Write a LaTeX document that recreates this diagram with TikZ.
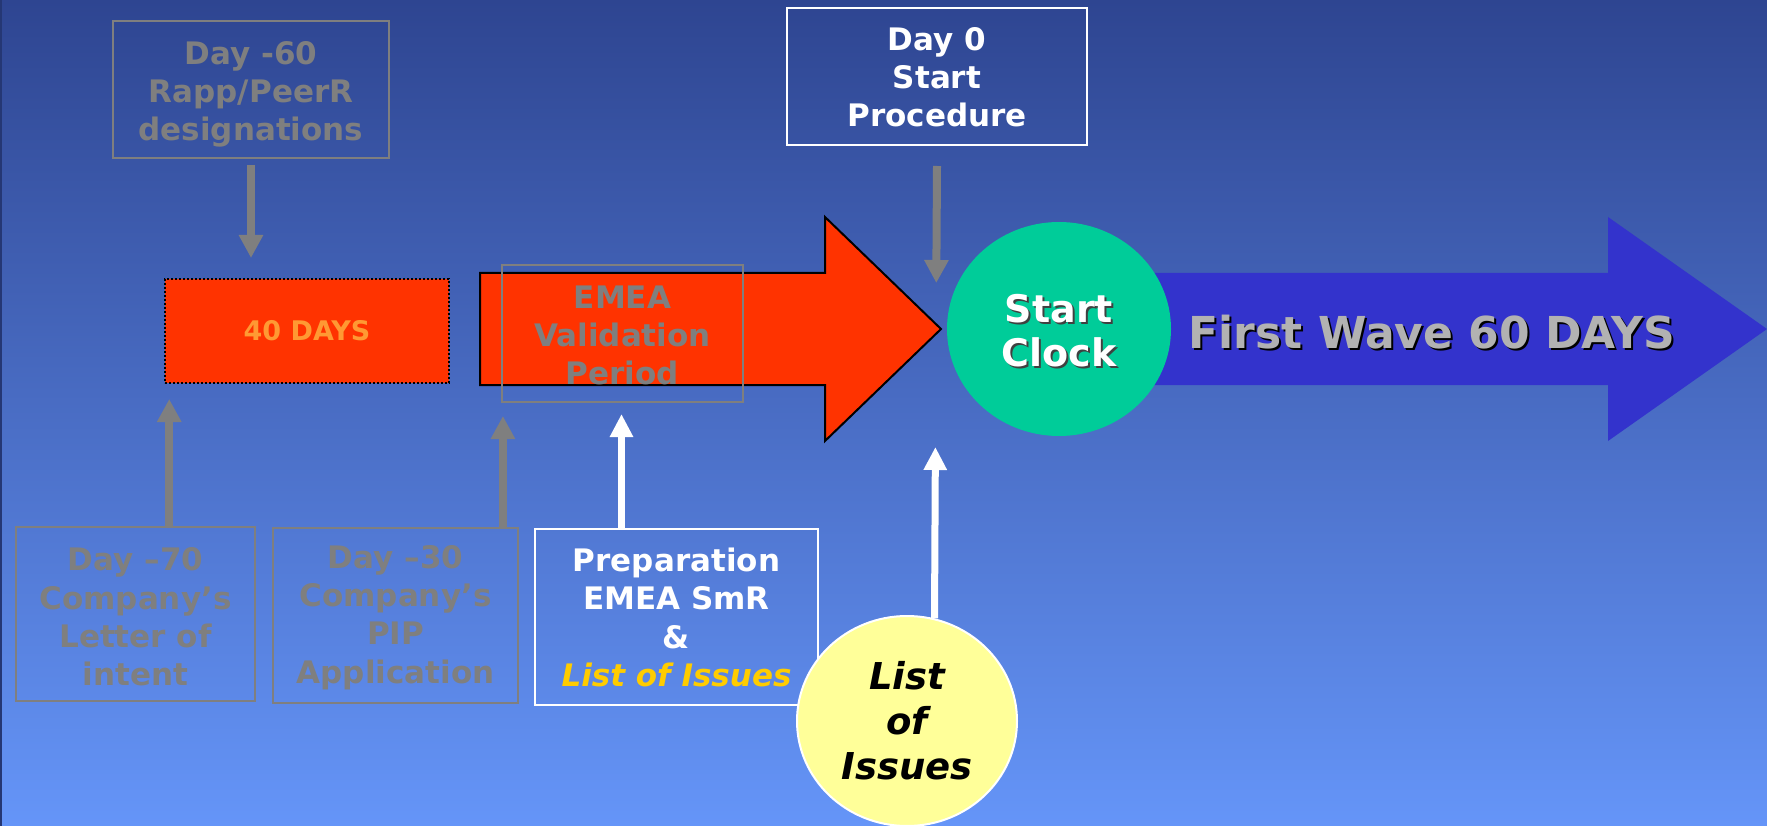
\documentclass[tikz,border=0pt]{standalone}
\usepackage{fontspec}
\setmainfont{DejaVu Sans}
\usetikzlibrary{arrows.meta,shapes.geometric,calc}

\definecolor{bgtop}{HTML}{2E4591}
\definecolor{bgbot}{HTML}{6595F8}
\definecolor{boxgray}{HTML}{7F7F7F}
\definecolor{redfill}{HTML}{FF3300}
\definecolor{orangetxt}{HTML}{FF9933}
\definecolor{clockgreen}{HTML}{00CC99}
\definecolor{wave}{HTML}{3333CC}
\definecolor{wavetxt}{HTML}{B2B2B2}
\definecolor{issuefill}{HTML}{FFFF99}
\definecolor{issuetxt}{HTML}{FFCC00}

\tikzset{
  grayframe/.style={draw=boxgray, line width=2pt, inner sep=0pt},
  whiteframe/.style={draw=white, line width=2pt, inner sep=0pt},
  graytext/.style={text=boxgray, align=center, inner sep=0pt,
    font=\fontsize{31}{38}\selectfont\bfseries},
  whitetext/.style={text=white, align=center, inner sep=0pt,
    font=\fontsize{31}{38}\selectfont\bfseries},
  lowtext/.style={font=\fontsize{31}{38.3}\selectfont\bfseries},
  garrow/.style={draw=boxgray, line width=8pt, -{Triangle[length=23pt,width=23pt]}},
  warrow/.style={draw=white, line width=7pt, -{Triangle[length=23pt,width=22pt]}},
}

\begin{document}
\begin{tikzpicture}[x=1pt,y=-1pt]
\useasboundingbox (0,0) rectangle (1767,826);
% backdrop
\shade[top color=bgtop, bottom color=bgbot] (0,0) rectangle (1767,826);
\draw[bgtop!80!black, line width=2pt] (1,0) -- (1,826);

% blue first-wave arrow
\fill[wave] (1100,273) -- (1608,273) -- (1608,217) -- (1767,329)
  -- (1608,441) -- (1608,385) -- (1100,385) -- cycle;
\node[text=black, font=\fontsize{44}{50}\selectfont\bfseries] at (1434,334) {First Wave 60 DAYS};
\node[text=wavetxt, font=\fontsize{44}{50}\selectfont\bfseries] (fw) at (1432,332) {First Wave 60 DAYS};

% red validation arrow
\draw[fill=redfill, draw=black, line width=2pt] (480,273) -- (825,273) -- (825,217)
  -- (941,329) -- (825,441) -- (825,385) -- (480,385) -- cycle;
\node[grayframe, line width=1.5pt, minimum width=241, minimum height=137]
  (emea) at (622.5,333.5) {};
\node[graytext] (emeatxt) at ($(emea)+(0,1.5)$) {EMEA\\Validation\\Period};

% 40 days bar
\node[draw=black, dotted, line width=2pt, fill=redfill, minimum width=284, minimum height=104,
  text=orangetxt, font=\fontsize{27}{30}\selectfont\bfseries] (days40) at (307,331) {40 DAYS};

% top boxes
\node[grayframe, minimum width=276, minimum height=137] (d60) at (251,89.5) {};
\node[graytext] (d60txt) at ($(d60)+(0,4.5)$) {Day -60\\Rapp/PeerR\\designations};
\node[whiteframe, minimum width=300, minimum height=137] (d0) at (937,76.5) {};
\node[whitetext] (d0txt) at ($(d0)+(0,1)$) {Day 0\\Start\\Procedure};

% start clock
\node[ellipse, fill=clockgreen, minimum width=224, minimum height=214, inner sep=0pt]
  (clock) at (1059,329) {};
\node[text=black!75, align=center, font=\fontsize{38}{44}\selectfont\bfseries]
  at (1061,333) {Start\\Clock};
\node[text=white, align=center, font=\fontsize{38}{44}\selectfont\bfseries]
  (clocktxt) at (1059,331) {Start\\Clock};
\coordinate (clockin) at (936,329);

% bottom boxes
\node[grayframe, minimum width=239, minimum height=174] (d70) at (135.5,614) {};
\node[graytext, lowtext] (d70txt) at ($(d70)+(0,3)$) {Day –70\\Company’s\\Letter of\\intent};
\node[grayframe, minimum width=245, minimum height=175] (d30) at (395.5,615.5) {};
\node[graytext, lowtext] (d30txt) at ($(d30)+(0,2)$) {Day –30\\Company’s\\PIP\\Application};
\node[whiteframe, minimum width=283, minimum height=176] (prep) at (676.5,617) {};
\node[whitetext, lowtext] (preptxt) at ($(prep)+(0,0.5)$)
  {Preparation\\EMEA SmR\\\&\\\textcolor{issuetxt}{\itshape List of Issues}};

% list of issues bubble
\node[ellipse, fill=issuefill, draw=white, line width=2pt, minimum width=220, minimum height=210,
  inner sep=0pt, align=center, text=black, font=\fontsize{37}{45}\selectfont\bfseries\itshape]
  (loi) at (907,721) {List\\of\\Issues};

% connectors
\draw[garrow] ($(d60.south)+(0,6)$) -- ($(d60.south |- days40.north)+(0,-20)$);
\draw[garrow] ($(d70.north west)!0.64!(d70.north east)$) -- ++(0,-127);
\draw[garrow] ($(d30.north west)!0.935!(d30.north east)$) -- ++(0,-111);
\draw[warrow] ($(prep.north west)!0.307!(prep.north east)$) -- ++(0,-114);
\draw[garrow, shorten >=46pt] ($(d0.south)+(0,20)$) -- (clockin);
\draw[warrow, shorten >=118pt] (loi.75) -- (clockin);
\end{tikzpicture}
\end{document}
